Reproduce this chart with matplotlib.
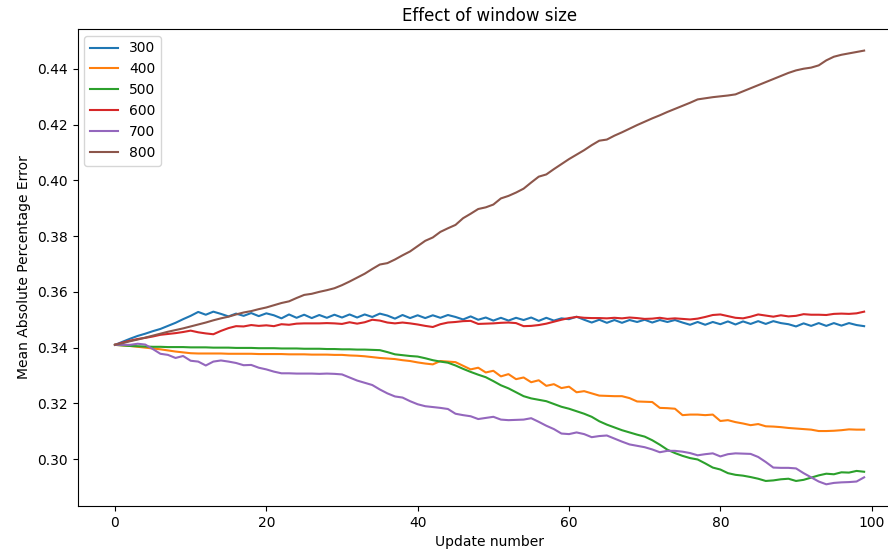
import matplotlib.pyplot as plt

# window sizes in the legend
windows = ['300', '400', '500', '600', '700', '800']

# MAPE after each update (updates 0..99)
mape_300 = [
    0.3410, 0.3421, 0.3432, 0.3442, 0.3450, 0.3459, 0.3467, 0.3478, 0.3489, 0.3502,
    0.3514, 0.3528, 0.3518, 0.3529, 0.3521, 0.3512, 0.3522, 0.3514, 0.3524, 0.3513,
    0.3523, 0.3516, 0.3505, 0.3519, 0.3507, 0.3518, 0.3506, 0.3517, 0.3507, 0.3518,
    0.3508, 0.3519, 0.3508, 0.3519, 0.3510, 0.3522, 0.3515, 0.3504, 0.3517, 0.3506,
    0.3516, 0.3506, 0.3516, 0.3507, 0.3517, 0.3510, 0.3501, 0.3512, 0.3500, 0.3508,
    0.3497, 0.3507, 0.3497, 0.3507, 0.3499, 0.3508, 0.3496, 0.3507, 0.3497, 0.3505,
    0.3502, 0.3511, 0.3500, 0.3490, 0.3500, 0.3489, 0.3499, 0.3489, 0.3499, 0.3492,
    0.3500, 0.3490, 0.3499, 0.3492, 0.3499, 0.3490, 0.3482, 0.3492, 0.3482, 0.3492,
    0.3484, 0.3494, 0.3483, 0.3494, 0.3485, 0.3495, 0.3485, 0.3495, 0.3488, 0.3484,
    0.3476, 0.3487, 0.3478, 0.3488, 0.3478, 0.3488, 0.3479, 0.3488, 0.3481, 0.3477,
]
mape_400 = [
    0.3410, 0.3408, 0.3406, 0.3403, 0.3400, 0.3397, 0.3394, 0.3390, 0.3386, 0.3383,
    0.3380, 0.3379, 0.3379, 0.3379, 0.3379, 0.3378, 0.3378, 0.3378, 0.3378, 0.3377,
    0.3377, 0.3377, 0.3377, 0.3376, 0.3376, 0.3376, 0.3375, 0.3375, 0.3375, 0.3374,
    0.3374, 0.3372, 0.3371, 0.3369, 0.3366, 0.3363, 0.3361, 0.3359, 0.3355, 0.3352,
    0.3347, 0.3343, 0.3340, 0.3352, 0.3350, 0.3348, 0.3335, 0.3322, 0.3328, 0.3311,
    0.3317, 0.3297, 0.3305, 0.3287, 0.3293, 0.3276, 0.3283, 0.3263, 0.3269, 0.3255,
    0.3260, 0.3240, 0.3244, 0.3236, 0.3228, 0.3227, 0.3226, 0.3226, 0.3219, 0.3207,
    0.3206, 0.3205, 0.3184, 0.3183, 0.3181, 0.3158, 0.3160, 0.3160, 0.3158, 0.3160,
    0.3137, 0.3140, 0.3133, 0.3128, 0.3122, 0.3126, 0.3118, 0.3117, 0.3115, 0.3112,
    0.3110, 0.3108, 0.3106, 0.3101, 0.3101, 0.3102, 0.3104, 0.3107, 0.3106, 0.3106,
]
mape_500 = [
    0.3410, 0.3408, 0.3406, 0.3405, 0.3404, 0.3403, 0.3403, 0.3402, 0.3402, 0.3402,
    0.3401, 0.3401, 0.3401, 0.3400, 0.3400, 0.3400, 0.3399, 0.3399, 0.3399, 0.3398,
    0.3398, 0.3398, 0.3397, 0.3397, 0.3397, 0.3396, 0.3396, 0.3396, 0.3395, 0.3395,
    0.3394, 0.3394, 0.3393, 0.3393, 0.3392, 0.3391, 0.3384, 0.3376, 0.3373, 0.3370,
    0.3368, 0.3362, 0.3355, 0.3350, 0.3346, 0.3336, 0.3324, 0.3313, 0.3303, 0.3294,
    0.3280, 0.3265, 0.3254, 0.3240, 0.3226, 0.3218, 0.3213, 0.3208, 0.3198, 0.3188,
    0.3181, 0.3172, 0.3163, 0.3152, 0.3136, 0.3124, 0.3114, 0.3104, 0.3096, 0.3088,
    0.3081, 0.3068, 0.3052, 0.3034, 0.3022, 0.3012, 0.3004, 0.2999, 0.2985, 0.2970,
    0.2963, 0.2950, 0.2944, 0.2941, 0.2936, 0.2930, 0.2922, 0.2924, 0.2928, 0.2930,
    0.2922, 0.2926, 0.2934, 0.2942, 0.2948, 0.2946, 0.2953, 0.2952, 0.2958, 0.2955,
]
mape_600 = [
    0.3410, 0.3418, 0.3425, 0.3431, 0.3435, 0.3440, 0.3446, 0.3449, 0.3452, 0.3456,
    0.3461, 0.3455, 0.3451, 0.3448, 0.3460, 0.3470, 0.3477, 0.3476, 0.3481, 0.3478,
    0.3480, 0.3477, 0.3484, 0.3482, 0.3486, 0.3487, 0.3487, 0.3487, 0.3488, 0.3487,
    0.3485, 0.3491, 0.3486, 0.3491, 0.3500, 0.3497, 0.3490, 0.3487, 0.3490, 0.3487,
    0.3483, 0.3478, 0.3474, 0.3484, 0.3490, 0.3492, 0.3495, 0.3496, 0.3485, 0.3486,
    0.3487, 0.3489, 0.3490, 0.3488, 0.3477, 0.3478, 0.3481, 0.3486, 0.3493, 0.3500,
    0.3506, 0.3510, 0.3507, 0.3506, 0.3506, 0.3505, 0.3507, 0.3505, 0.3508, 0.3506,
    0.3503, 0.3504, 0.3507, 0.3503, 0.3505, 0.3503, 0.3501, 0.3504, 0.3510, 0.3517,
    0.3519, 0.3513, 0.3507, 0.3505, 0.3511, 0.3519, 0.3515, 0.3511, 0.3516, 0.3512,
    0.3514, 0.3520, 0.3518, 0.3518, 0.3517, 0.3521, 0.3522, 0.3521, 0.3523, 0.3529,
]
mape_700 = [
    0.3410, 0.3410, 0.3410, 0.3414, 0.3411, 0.3395, 0.3378, 0.3374, 0.3363, 0.3370,
    0.3353, 0.3350, 0.3336, 0.3350, 0.3354, 0.3350, 0.3345, 0.3337, 0.3338, 0.3328,
    0.3322, 0.3314, 0.3308, 0.3308, 0.3307, 0.3307, 0.3307, 0.3306, 0.3307, 0.3306,
    0.3304, 0.3293, 0.3282, 0.3274, 0.3266, 0.3250, 0.3236, 0.3225, 0.3221, 0.3208,
    0.3197, 0.3190, 0.3187, 0.3184, 0.3180, 0.3163, 0.3158, 0.3154, 0.3144, 0.3148,
    0.3152, 0.3142, 0.3140, 0.3141, 0.3142, 0.3147, 0.3134, 0.3120, 0.3108, 0.3092,
    0.3090, 0.3096, 0.3090, 0.3079, 0.3083, 0.3085, 0.3074, 0.3063, 0.3053, 0.3048,
    0.3043, 0.3035, 0.3025, 0.3030, 0.3030, 0.3027, 0.3022, 0.3014, 0.3018, 0.3021,
    0.3010, 0.3018, 0.3021, 0.3020, 0.3019, 0.3008, 0.2990, 0.2970, 0.2969, 0.2969,
    0.2967, 0.2950, 0.2935, 0.2920, 0.2910, 0.2915, 0.2917, 0.2918, 0.2920, 0.2935,
]
mape_800 = [
    0.3410, 0.3416, 0.3423, 0.3429, 0.3436, 0.3443, 0.3450, 0.3457, 0.3463, 0.3469,
    0.3476, 0.3483, 0.3490, 0.3498, 0.3505, 0.3511, 0.3519, 0.3526, 0.3531, 0.3538,
    0.3544, 0.3552, 0.3560, 0.3566, 0.3578, 0.3589, 0.3593, 0.3600, 0.3606, 0.3613,
    0.3624, 0.3637, 0.3651, 0.3665, 0.3682, 0.3698, 0.3703, 0.3716, 0.3731, 0.3745,
    0.3764, 0.3783, 0.3795, 0.3815, 0.3828, 0.3840, 0.3864, 0.3880, 0.3897, 0.3903,
    0.3913, 0.3935, 0.3944, 0.3956, 0.3970, 0.3992, 0.4013, 0.4021, 0.4040, 0.4058,
    0.4076, 0.4092, 0.4108, 0.4126, 0.4142, 0.4146, 0.4160, 0.4172, 0.4185, 0.4198,
    0.4210, 0.4222, 0.4233, 0.4245, 0.4256, 0.4267, 0.4278, 0.4290, 0.4294, 0.4298,
    0.4301, 0.4304, 0.4308, 0.4319, 0.4330, 0.4341, 0.4352, 0.4363, 0.4374, 0.4385,
    0.4394, 0.4400, 0.4404, 0.4412, 0.4430, 0.4443, 0.4450, 0.4455, 0.4460, 0.4465,
]

series = [mape_300, mape_400, mape_500, mape_600, mape_700, mape_800]

fig = plt.figure(figsize=(8.88, 5.58), dpi=100)
# the right spine is cut off in the reference, so the axes run past the edge
ax = fig.add_axes([0.0873, 0.0932, 0.928, 0.855])
for label, vals in zip(windows, series):
    ax.plot(range(len(vals)), vals, label=label)

ax.spines['right'].set_visible(False)
ax.set_title('Effect of window size')
ax.set_xlabel('Update number')
ax.set_ylabel('Mean Absolute Percentage Error')
ax.legend(loc='upper left')

fig.savefig('out.png', dpi=100)
